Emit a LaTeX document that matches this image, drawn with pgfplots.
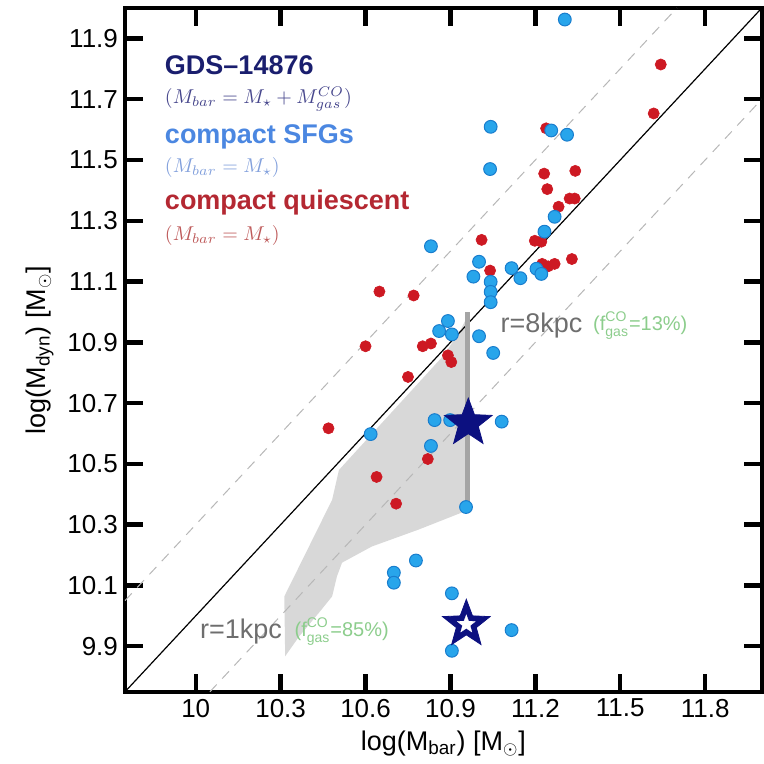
\documentclass[border=0pt]{standalone}
\usepackage{pgfplots}
\pgfplotsset{compat=1.18}
\usepackage{amsmath}
\usepackage{fontspec}
\setmainfont{Liberation Sans}

% === COLORES ===
\definecolor{starNavy}{RGB}{12,16,128}
\definecolor{titleNavy}{RGB}{26,30,110}
\definecolor{mathNavy}{RGB}{70,70,140}
\definecolor{sfgBlue}{RGB}{40,165,235}
\definecolor{sfgEdge}{RGB}{25,125,205}
\definecolor{sfgText}{RGB}{75,135,225}
\definecolor{sfgMath}{RGB}{130,160,220}
\definecolor{qRed}{RGB}{205,25,35}
\definecolor{qText}{RGB}{180,40,50}
\definecolor{qMath}{RGB}{190,90,90}
\definecolor{regionGray}{RGB}{216,216,216}
\definecolor{barGray}{RGB}{165,165,165}
\definecolor{annGray}{RGB}{110,110,110}
\definecolor{annGreen}{RGB}{140,205,140}

% estrella de cinco puntas
\pgfdeclareplotmark{fivestar}{%
  \pgfpathmoveto{\pgfpointpolar{90}{\pgfplotmarksize}}%
  \pgfpathlineto{\pgfpointpolar{126}{0.42\pgfplotmarksize}}%
  \pgfpathlineto{\pgfpointpolar{162}{\pgfplotmarksize}}%
  \pgfpathlineto{\pgfpointpolar{198}{0.42\pgfplotmarksize}}%
  \pgfpathlineto{\pgfpointpolar{234}{\pgfplotmarksize}}%
  \pgfpathlineto{\pgfpointpolar{270}{0.42\pgfplotmarksize}}%
  \pgfpathlineto{\pgfpointpolar{306}{\pgfplotmarksize}}%
  \pgfpathlineto{\pgfpointpolar{342}{0.42\pgfplotmarksize}}%
  \pgfpathlineto{\pgfpointpolar{18}{\pgfplotmarksize}}%
  \pgfpathlineto{\pgfpointpolar{54}{0.42\pgfplotmarksize}}%
  \pgfpathclose
  \pgfusepathqfillstroke}

% === DATOS ===
\pgfplotstableread{
x y
11.304 11.962
11.042 11.609
11.256 11.597
11.312 11.583
11.040 11.470
11.268 11.313
11.232 11.264
10.831 11.216
11.001 11.165
10.981 11.116
11.042 11.099
11.116 11.144
11.147 11.111
11.204 11.142
11.221 11.125
11.042 11.066
11.042 11.032
10.891 10.970
10.860 10.937
10.905 10.926
11.001 10.920
11.051 10.865
10.618 10.598
10.844 10.644
10.899 10.644
11.081 10.639
10.831 10.559
10.955 10.358
10.778 10.182
10.700 10.142
10.700 10.109
10.905 10.074
11.116 9.953
10.905 9.885
}\sfgdata

\pgfplotstableread{
x y
11.643 11.814
11.618 11.653
11.238 11.604
11.231 11.455
11.341 11.464
11.242 11.404
11.321 11.373
11.339 11.373
11.282 11.346
11.010 11.237
11.198 11.234
11.221 11.231
11.329 11.174
11.040 11.136
11.224 11.158
11.245 11.150
11.268 11.158
10.649 11.067
10.770 11.054
10.600 10.887
10.802 10.887
10.831 10.896
10.891 10.857
10.903 10.835
10.750 10.786
10.469 10.617
10.820 10.516
10.639 10.457
10.708 10.369
}\quiescentdata

\begin{document}
\begin{tikzpicture}
\begin{axis}[
    scale only axis,
    width=318.5pt, height=342pt,
    xmin=9.75, xmax=12, ymin=9.75, ymax=12,
    xtick={10,10.3,10.6,10.9,11.2,11.5,11.8},
    xticklabels={10,10.3,10.6,10.9,11.2,11.5,11.8},
    ytick={9.9,10.1,10.3,10.5,10.7,10.9,11.1,11.3,11.5,11.7,11.9},
    yticklabels={9.9,10.1,10.3,10.5,10.7,10.9,11.1,11.3,11.5,11.7,11.9},
    tick align=inside, xtick pos=both, ytick pos=both,
    major tick length=9pt,
    every tick/.style={black, line width=2.2pt},
    axis line style={line width=1.8pt},
    ticklabel style={font=\fontsize{13}{15}\selectfont},
    label style={font=\fontsize{13.5}{16}\selectfont},
    xlabel={log(M\textsubscript{bar}) [M\textsubscript{$\odot$}]},
    ylabel={log(M\textsubscript{dyn}) [M\textsubscript{$\odot$}]},
    clip=true,
]

% región sombreada
\addplot[fill=regionGray, draw=none] coordinates {
    (10.316,9.867) (10.313,10.064) (10.482,10.382) (10.506,10.48)
    (10.876,10.857) (10.935,10.939) (10.965,10.995) (10.965,10.349)
    (10.788,10.284) (10.622,10.228) (10.517,10.175) (10.499,10.13)
    (10.482,10.064) (10.436,10.011) (10.366,9.933) (10.316,9.867)
};

% líneas de referencia
\addplot[barGray!80, line width=0.5pt, dash pattern=on 5pt off 4pt] coordinates {(9.75,10.05) (11.7,12)};
\addplot[barGray!80, line width=0.5pt, dash pattern=on 5pt off 4pt] coordinates {(10.05,9.75) (12,11.7)};
\addplot[black, line width=0.6pt] coordinates {(9.75,9.75) (12,12)};
\addplot[barGray, line width=2.5pt] coordinates {(10.96,10.35) (10.96,11.0)};

% puntos
\addplot[only marks, mark=*, mark size=2.8pt, mark options={fill=qRed, draw=qRed, line width=0.3pt}]
    table {\quiescentdata};
\addplot[only marks, mark=*, mark size=3.2pt, mark options={fill=sfgBlue, draw=sfgEdge, line width=0.5pt}]
    table {\sfgdata};

% GDS-14876
\addplot[only marks, mark=fivestar, mark size=12.5pt, mark options={fill=starNavy, draw=starNavy, line width=0.4pt}]
    coordinates {(10.963,10.634)};
\addplot[only marks, mark=fivestar, mark size=12.5pt, mark options={fill=starNavy, draw=starNavy, line width=0.4pt}]
    coordinates {(10.956,9.972)};
\addplot[only marks, mark=fivestar, mark size=4.8pt, mark options={fill=white, draw=white, line width=0.1pt}]
    coordinates {(10.956,9.972)};

% leyenda
\node[anchor=west, inner sep=0pt, text=titleNavy, font=\fontsize{13.5}{16}\selectfont\bfseries] at (axis cs:9.89,11.812) {GDS--14876};
\node[anchor=west, inner sep=0pt, text=mathNavy, font=\fontsize{10}{12}\selectfont] at (axis cs:9.89,11.70) {$(M_{bar}=M_{\star}+M_{gas}^{CO})$};
\node[anchor=west, inner sep=0pt, text=sfgText, font=\fontsize{13.5}{16}\selectfont\bfseries] at (axis cs:9.89,11.575) {compact SFGs};
\node[anchor=west, inner sep=0pt, text=sfgMath, font=\fontsize{10}{12}\selectfont] at (axis cs:9.89,11.474) {$(M_{bar}=M_{\star})$};
\node[anchor=west, inner sep=0pt, text=qText, font=\fontsize{13.5}{16}\selectfont\bfseries] at (axis cs:9.89,11.359) {compact quiescent};
\node[anchor=west, inner sep=0pt, text=qMath, font=\fontsize{10}{12}\selectfont] at (axis cs:9.89,11.251) {$(M_{bar}=M_{\star})$};

% anotaciones
\node[anchor=west, inner sep=0pt, text=annGray, font=\fontsize{13.5}{16}\selectfont] at (axis cs:11.076,10.956) {r=8kpc};
\node[anchor=west, inner sep=0pt, text=annGreen, font=\fontsize{10}{12}\selectfont] at (axis cs:11.403,10.956) {$\text{(f}^{\text{CO}}_{\text{gas}}\text{=13\%)}$};
\node[anchor=west, inner sep=0pt, text=annGray, font=\fontsize{13.5}{16}\selectfont] at (axis cs:10.014,9.949) {r=1kpc};
\node[anchor=west, inner sep=0pt, text=annGreen, font=\fontsize{10}{12}\selectfont] at (axis cs:10.348,9.949) {$\text{(f}^{\text{CO}}_{\text{gas}}\text{=85\%)}$};

\coordinate (sw) at (rel axis cs:0,0);
\coordinate (ne) at (rel axis cs:1,1);
\end{axis}
\path ([shift={(-62.5pt,-36pt)}]sw) rectangle ([shift={(0.5pt,4pt)}]ne);
\end{tikzpicture}
\end{document}
